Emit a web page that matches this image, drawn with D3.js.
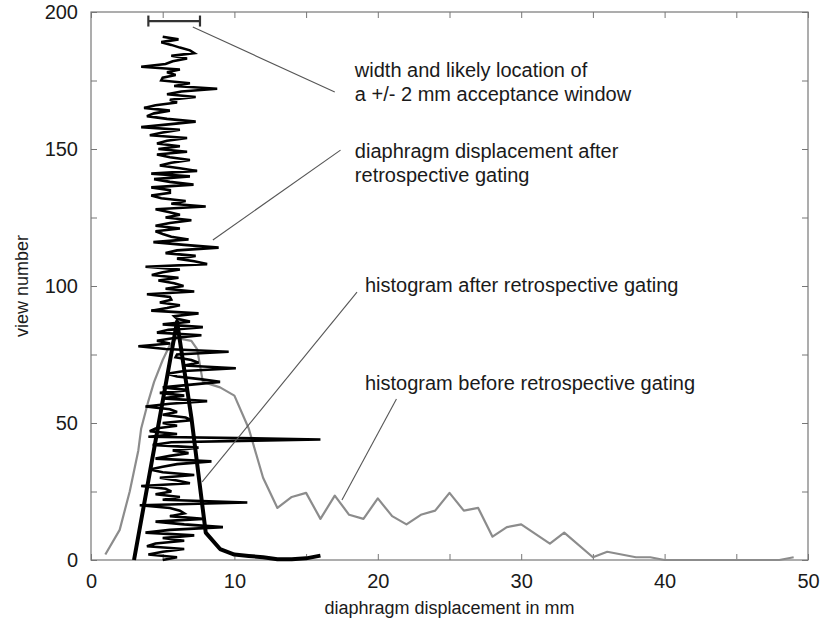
<!DOCTYPE html>
<html>
<head>
<meta charset="utf-8">
<script src="https://cdn.jsdelivr.net/npm/d3@7"></script>
<style>
  html, body { margin: 0; padding: 0; background: #fff; }
  svg text { font-family: "Liberation Sans", Arial, Helvetica, sans-serif; fill: #1a1a1a; }
</style>
</head>
<body>
<svg id="chart" width="822" height="622"></svg>
<script>
// diaphragm displacement (mm) per view number, view 0 .. 191
const VIEW_DISPLACEMENT = [
  5.0, 6.0, 4.0, 5.0, 6.5, 3.9, 4.5, 6.5, 5.0, 7.2,
  3.8, 5.5, 9.2, 6.5, 4.5, 7.8, 5.5, 6.5, 6.2, 5.5,
  3.4, 10.9, 5.0, 6.2, 4.5, 5.6, 5.2, 3.5, 6.9, 6.0,
  4.8, 7.2, 5.0, 4.1, 5.0, 6.0, 8.4, 4.5, 5.5, 6.8,
  5.7, 7.5, 4.3, 5.6, 16.0, 4.0, 6.0, 4.1, 4.5, 6.0,
  5.0, 7.0, 6.6, 5.0, 6.0, 5.5, 3.8, 5.5, 8.1, 5.0,
  6.5, 4.8, 6.8, 5.0, 7.0, 9.0, 7.6, 6.0, 5.3, 6.5,
  10.1, 6.5, 7.5, 7.0, 5.9, 6.0, 9.6, 5.2, 3.3, 5.5,
  4.6, 5.8, 7.7, 4.6, 5.4, 7.8, 5.0, 6.9, 6.0, 5.8,
  7.5, 4.2, 5.3, 6.2, 4.8, 5.6, 5.5, 3.9, 7.2, 5.2,
  6.45, 5.8, 4.7, 6.1, 4.24, 5.0, 6.2, 3.8, 8.1, 7.2,
  6.0, 7.3, 5.2, 6.0, 8.9, 6.5, 4.35, 6.8, 5.6, 5.0,
  4.5, 6.2, 4.5, 5.5, 7.0, 5.2, 6.2, 5.4, 4.5, 8.0,
  5.6, 6.6, 4.9, 4.2, 5.5, 5.5, 4.2, 7.15, 5.5, 4.4,
  6.9, 4.2, 7.4, 6.2, 4.8, 5.6, 6.9, 5.5, 4.6, 6.7,
  4.7, 6.2, 4.6, 5.3, 6.7, 4.1, 5.0, 6.2, 3.5, 5.4,
  7.3, 5.3, 3.9, 4.4, 5.5, 3.7, 4.5, 6.0, 5.5, 7.3,
  5.3, 6.3, 8.8, 5.8, 6.9, 4.9, 5.0, 5.9, 5.3, 6.2,
  3.5, 5.2, 5.7, 6.7, 5.6, 7.2, 6.9, 6.2, 5.6, 4.9,
  6.1, 5.0
];

// histogram before retrospective gating
const HIST_BEFORE_X = [1, 2, 2.7, 3.3, 3.5, 4, 4.4, 5, 5.5, 6, 7, 7.4, 7.8, 9, 10, 11, 12, 13, 14, 15,
  16, 17, 18, 19, 20, 21, 22, 23, 24, 25, 26, 27, 28, 29, 30, 32, 33, 35, 36, 38, 39, 40, 48, 49];
const HIST_BEFORE_Y = [2, 11, 25, 40, 48, 58, 65, 73, 78.5, 81, 80, 77, 65, 63, 60, 48, 30, 19, 23, 24.5,
  15, 23.5, 16.5, 15, 22.5, 16, 13, 16.5, 18, 24.5, 18, 19, 8.5, 12, 13, 6, 10, 1, 3, 1, 1, 0, 0, 1];

// histogram after retrospective gating
const HIST_AFTER_X = [3, 4, 5, 6, 7, 8, 9, 10, 11, 12, 13, 14, 15, 16];
const HIST_AFTER_Y = [0, 29, 58, 87, 52, 10, 4, 2, 1.5, 1, 0.3, 0.3, 0.6, 1.6];

// +/- 2 mm acceptance window
const WINDOW_RANGE = [4.0, 7.6];
const WINDOW_VIEW = 196.7;

const X_TICKS = d3.range(0, 51, 5);
const Y_TICKS = d3.range(0, 201, 25);
const X_LABEL = 'diaphragm displacement in mm';
const Y_LABEL = 'view number';

// annotations, given in data units
const ANNOTATIONS = [
  { lines: ['width and likely location of', 'a +/- 2 mm acceptance window'], at: [18.4, 176.3],
    leader: [[7.1, 194.5], [17.0, 170.8]] },
  { lines: ['diaphragm displacement after', 'retrospective gating'], at: [18.4, 146.7],
    leader: [[8.5, 116.8], [17.4, 149.6]] },
  { lines: ['histogram after retrospective gating'], at: [19.1, 97.8],
    leader: [[7.75, 28.5], [18.55, 97.8]] },
  { lines: ['histogram before retrospective gating'], at: [19.1, 62.0],
    leader: [[17.5, 21.9], [21.3, 58.8]] }
];

const FRAME = { left: 91, right: 808, top: 12, bottom: 560 };
const FRAME_COLOR = '#777';

const svg = d3.select('#chart');
const x = d3.scaleLinear().domain([0, 50]).range([FRAME.left, FRAME.right]);
const y = d3.scaleLinear().domain([0, 200]).range([FRAME.bottom, FRAME.top]);

// axes: inward ticks on all four sides
function styleAxis(g) {
  g.select('.domain').remove();
  g.selectAll('.tick line').attr('stroke', FRAME_COLOR).attr('stroke-width', 1);
  g.selectAll('.tick text').attr('font-size', '20px').attr('fill', '#1a1a1a');
}
const fmtX = (d) => (d % 10 === 0 ? d : '');
const fmtY = (d) => (d % 50 === 0 ? d : '');

svg.append('g')
  .attr('transform', `translate(0,${FRAME.bottom})`)
  .call(d3.axisBottom(x).tickValues(X_TICKS).tickSize(-6).tickPadding(10).tickFormat(fmtX))
  .call(styleAxis)
  .selectAll('text').attr('dy', '0.9em');
svg.append('g')
  .attr('transform', `translate(0,${FRAME.top})`)
  .call(d3.axisTop(x).tickValues(X_TICKS).tickSize(-6).tickFormat(''))
  .call(styleAxis);
svg.append('g')
  .attr('transform', `translate(${FRAME.left},0)`)
  .call(d3.axisLeft(y).tickValues(Y_TICKS).tickSize(-6).tickPadding(13).tickFormat(fmtY))
  .call(styleAxis);
svg.append('g')
  .attr('transform', `translate(${FRAME.right},0)`)
  .call(d3.axisRight(y).tickValues(Y_TICKS).tickSize(-6).tickFormat(''))
  .call(styleAxis);

svg.append('rect')
  .attr('x', FRAME.left).attr('y', FRAME.top)
  .attr('width', FRAME.right - FRAME.left).attr('height', FRAME.bottom - FRAME.top)
  .attr('fill', 'none').attr('stroke', FRAME_COLOR).attr('stroke-width', 1.2);

svg.append('text')
  .attr('x', (FRAME.left + FRAME.right) / 2)
  .attr('y', 614)
  .attr('text-anchor', 'middle')
  .attr('font-size', '18px')
  .text(X_LABEL);

svg.append('text')
  .attr('transform', `translate(28,${(FRAME.top + FRAME.bottom) / 2}) rotate(-90)`)
  .attr('text-anchor', 'middle')
  .attr('font-size', '18px')
  .text(Y_LABEL);

// series
const line = d3.line().x((d) => x(d[0])).y((d) => y(d[1]));

svg.append('path')
  .datum(HIST_BEFORE_X.map((v, i) => [v, HIST_BEFORE_Y[i]]))
  .attr('d', line)
  .attr('fill', 'none')
  .attr('stroke', '#8c8c8c')
  .attr('stroke-width', 2.2)
  .attr('stroke-linejoin', 'round');

svg.append('path')
  .datum(VIEW_DISPLACEMENT.map((v, i) => [v, i]))
  .attr('d', line)
  .attr('fill', 'none')
  .attr('stroke', '#000')
  .attr('stroke-width', 2.6)
  .attr('stroke-linejoin', 'miter')
  .attr('stroke-miterlimit', 3);

svg.append('path')
  .datum(HIST_AFTER_X.map((v, i) => [v, HIST_AFTER_Y[i]]))
  .attr('d', line)
  .attr('fill', 'none')
  .attr('stroke', '#000')
  .attr('stroke-width', 4)
  .attr('stroke-linejoin', 'round');

// acceptance window bar
const bar = svg.append('g').attr('stroke', '#333').attr('stroke-width', 2.2);
bar.append('line')
  .attr('x1', x(WINDOW_RANGE[0])).attr('x2', x(WINDOW_RANGE[1]))
  .attr('y1', y(WINDOW_VIEW)).attr('y2', y(WINDOW_VIEW));
bar.selectAll('.cap')
  .data(WINDOW_RANGE)
  .join('line')
  .attr('x1', (d) => x(d)).attr('x2', (d) => x(d))
  .attr('y1', y(WINDOW_VIEW) - 5.5).attr('y2', y(WINDOW_VIEW) + 5.5);

// annotations
for (const a of ANNOTATIONS) {
  svg.append('line')
    .attr('x1', x(a.leader[0][0])).attr('y1', y(a.leader[0][1]))
    .attr('x2', x(a.leader[1][0])).attr('y2', y(a.leader[1][1]))
    .attr('stroke', '#555')
    .attr('stroke-width', 1.1);
  a.lines.forEach((t, i) => {
    svg.append('text')
      .attr('x', x(a.at[0]))
      .attr('y', y(a.at[1]) + i * 24)
      .attr('font-size', '20px')
      .text(t);
  });
}
</script>
</body>
</html>
